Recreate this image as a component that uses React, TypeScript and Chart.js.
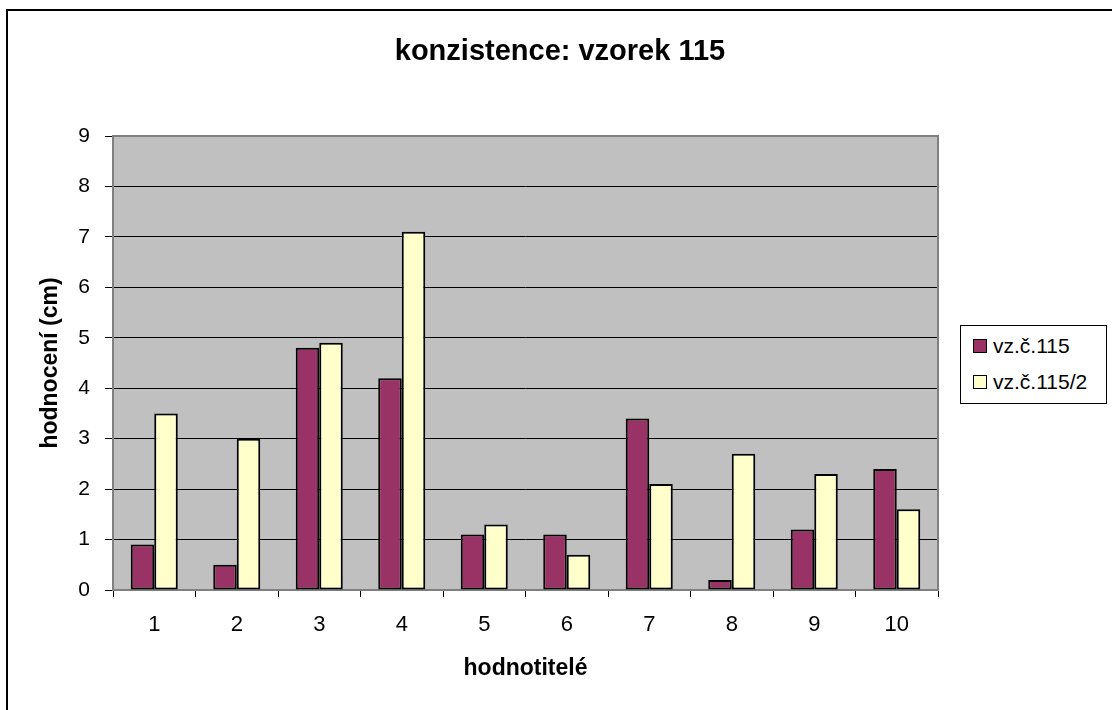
import React, { useEffect, useRef } from "react";
import { Chart, registerables } from "chart.js";

Chart.register(...registerables);

const chartTitle = "konzistence: vzorek 115";
const xAxisTitle = "hodnotitelé";
const yAxisTitle = "hodnocení (cm)";
const categories = ["1", "2", "3", "4", "5", "6", "7", "8", "9", "10"];
const series1Label = "vz.č.115";
const series2Label = "vz.č.115/2";
const series1 = [0.9, 0.5, 4.8, 4.2, 1.1, 1.1, 3.4, 0.2, 1.2, 2.4];
const series2 = [3.5, 3.0, 4.9, 7.1, 1.3, 0.7, 2.1, 2.7, 2.3, 1.6];
const yMin = 0;
const yMax = 9;
const yStep = 1;

const COLOR1 = "#993366";
const COLOR2 = "#FFFFCC";
const FONT = "'Liberation Sans', Arial, sans-serif";

const plotArea = {
  id: "plotArea",
  beforeDraw(chart: any) {
    const { ctx, chartArea } = chart;
    const { left, top, width, height } = chartArea;
    ctx.save();
    ctx.fillStyle = "#c0c0c0";
    ctx.fillRect(left, top, width, height);
    ctx.restore();
  },
  beforeDatasetsDraw(chart: any) {
    const { ctx, chartArea } = chart;
    const { left, top, width, height } = chartArea;
    ctx.save();
    ctx.strokeStyle = "#808080";
    ctx.lineWidth = 2;
    ctx.strokeRect(left, top, width, height);
    ctx.restore();
  },
};

export default function App() {
  const ref = useRef<HTMLCanvasElement | null>(null);

  useEffect(() => {
    if (!ref.current) return;
    const chart = new Chart(ref.current, {
      type: "bar",
      data: {
        labels: categories,
        datasets: [
          {
            label: series1Label,
            data: series1,
            backgroundColor: COLOR1,
            borderColor: "#000000",
            borderWidth: 2,
            borderSkipped: false,
            barPercentage: 1,
            categoryPercentage: 0.57,
          },
          {
            label: series2Label,
            data: series2,
            backgroundColor: COLOR2,
            borderColor: "#000000",
            borderWidth: 2,
            borderSkipped: false,
            barPercentage: 1,
            categoryPercentage: 0.57,
          },
        ],
      },
      options: {
        animation: false,
        responsive: false,
        maintainAspectRatio: false,
        layout: { padding: { left: 8, top: 0, right: 0, bottom: 0 } },
        plugins: {
          legend: { display: false },
          tooltip: { enabled: false },
          title: {
            display: true,
            text: chartTitle,
            color: "#000000",
            font: { family: FONT, size: 29, weight: "bold", lineHeight: 1.2 },
            padding: { top: 34.6, bottom: 66.6 },
          },
        },
        scales: {
          x: {
            type: "category",
            afterFit(scale: any) {
              scale.height = 120;
            },
            grid: {
              display: true,
              drawOnChartArea: false,
              drawTicks: true,
              tickLength: 7,
              color: "#000000",
              offset: true,
            },
            border: { display: false },
            ticks: {
              color: "#000000",
              font: { family: FONT, size: 22, lineHeight: 1.2 },
              padding: 15,
              maxRotation: 0,
              autoSkip: false,
            },
            title: {
              display: true,
              text: xAxisTitle,
              color: "#000000",
              font: { family: FONT, size: 23, weight: "bold", lineHeight: 1.2 },
              padding: { top: 0, bottom: 27.2 },
            },
          },
          y: {
            type: "linear",
            position: "left",
            min: yMin,
            max: yMax,
            afterFit(scale: any) {
              scale.width = 105;
            },
            grid: {
              display: true,
              drawTicks: true,
              tickLength: 8,
              color: "#000000",
              lineWidth: 1,
            },
            border: { display: false },
            ticks: {
              stepSize: yStep,
              color: "#000000",
              font: { family: FONT, size: 21, lineHeight: 1.2 },
              padding: 15,
            },
            title: {
              display: true,
              text: yAxisTitle,
              color: "#000000",
              font: { family: FONT, size: 23, weight: "bold", lineHeight: 1.2 },
              padding: { top: 29.2, bottom: 0 },
            },
          },
          spacer: {
            type: "linear",
            position: "right",
            display: true,
            afterFit(scale: any) {
              scale.width = 174;
            },
            grid: { display: false },
            border: { display: false },
            ticks: { display: false },
          },
        },
      },
      plugins: [plotArea],
    });
    return () => chart.destroy();
  }, []);

  const legendRow = (color: string, label: string, top: number) => (
    <div
      style={{
        position: "absolute",
        left: 12,
        top,
        height: 24,
        display: "flex",
        alignItems: "center",
      }}
    >
      <div
        style={{
          width: 14,
          height: 14,
          boxSizing: "border-box",
          border: "1.5px solid #000",
          background: color,
          marginRight: 6,
        }}
      />
      <span style={{ fontFamily: FONT, fontSize: 21, color: "#000", whiteSpace: "nowrap" }}>
        {label}
      </span>
    </div>
  );

  return (
    <div
      style={{
        position: "fixed",
        left: 0,
        top: 0,
        width: 1112,
        height: 710,
        overflow: "hidden",
        background: "#ffffff",
      }}
    >
      <canvas
        ref={ref}
        width={1112}
        height={710}
        style={{ position: "absolute", left: 0, top: 0, width: 1112, height: 710 }}
      />
      <div
        style={{
          position: "absolute",
          left: 6,
          top: 9,
          width: 1140,
          height: 760,
          border: "2px solid #000",
          pointerEvents: "none",
        }}
      />
      <div
        style={{
          position: "absolute",
          left: 960,
          top: 325,
          width: 147,
          height: 79,
          boxSizing: "border-box",
          border: "1.5px solid #000",
          background: "#ffffff",
        }}
      >
        {legendRow(COLOR1, series1Label, 8)}
        {legendRow(COLOR2, series2Label, 44)}
      </div>
    </div>
  );
}
